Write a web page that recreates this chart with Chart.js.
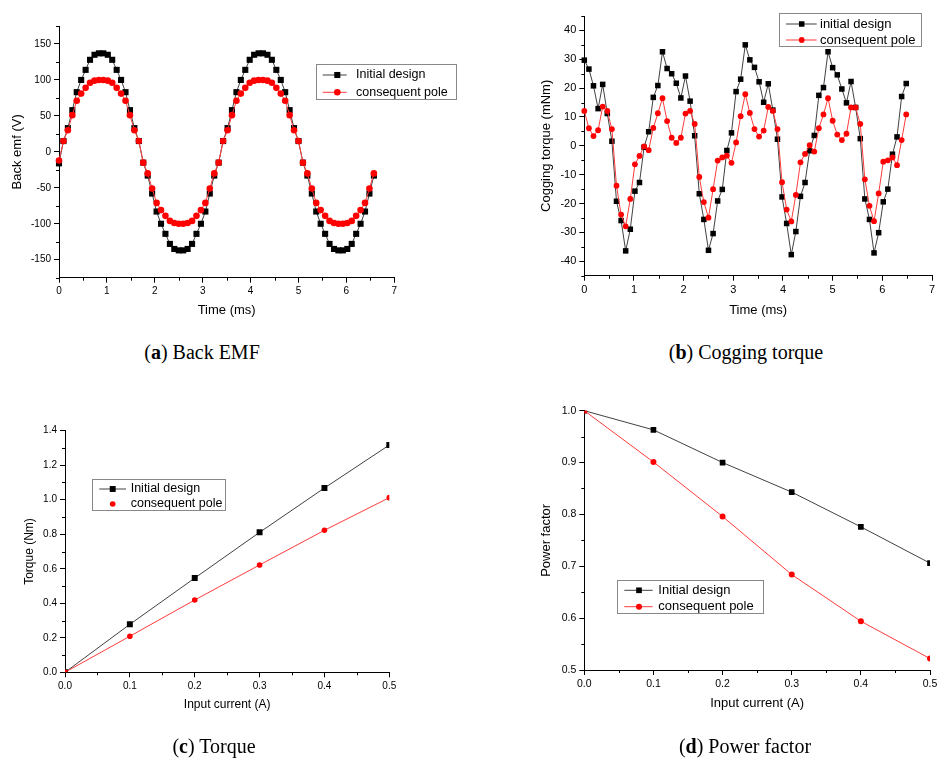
<!DOCTYPE html>
<html>
<head>
<meta charset="utf-8">
<title>Initial design vs consequent pole</title>
<script src="https://cdn.jsdelivr.net/npm/chart.js@4.4.1/dist/chart.umd.min.js"></script>
<style>
  html, body { margin: 0; padding: 0; background: #fff; overflow: hidden; }
  #page { position: relative; width: 937px; height: 763px; overflow: hidden; }
  canvas { position: absolute; }
  .caption {
    position: absolute; width: 300px; text-align: center;
    font-family: 'Liberation Serif', 'DejaVu Serif', serif;
    font-size: 20px; line-height: 24px; color: #000;
  }
</style>
</head>
<body>
<div id="page">
  <canvas id="emf_chart" width="468" height="335" style="left:0;top:0"></canvas>
  <canvas id="cogging_chart" width="475" height="335" style="left:470px;top:0"></canvas>
  <canvas id="torque_chart" width="468" height="345" style="left:0;top:390px"></canvas>
  <canvas id="pf_chart" width="480" height="345" style="left:470px;top:390px"></canvas>
  <div class="caption" style="left:52px;top:340px">(<b>a</b>) Back EMF</div>
  <div class="caption" style="left:596px;top:340px">(<b>b</b>) Cogging torque</div>
  <div class="caption" style="left:64px;top:734px">(<b>c</b>) Torque</div>
  <div class="caption" style="left:595px;top:734px">(<b>d</b>) Power factor</div>
</div>
<script>
// sample times (ms), 10 electrical degrees apart
const timeMs = [
    0, 0.093, 0.185, 0.278, 0.370, 0.463, 0.556, 0.648, 0.741, 0.833,
    0.926, 1.019, 1.111, 1.204, 1.296, 1.389, 1.481, 1.574, 1.667, 1.759,
    1.852, 1.944, 2.037, 2.130, 2.222, 2.315, 2.407, 2.500, 2.593, 2.685,
    2.778, 2.870, 2.963, 3.056, 3.148, 3.241, 3.333, 3.426, 3.519, 3.611,
    3.704, 3.796, 3.889, 3.981, 4.074, 4.167, 4.259, 4.352, 4.444, 4.537,
    4.630, 4.722, 4.815, 4.907, 5.000, 5.093, 5.185, 5.278, 5.370, 5.463,
    5.556, 5.648, 5.741, 5.833, 5.926, 6.019, 6.111, 6.204, 6.296, 6.389,
    6.481, 6.574
];

// back emf (V)
const emfInitial = [
    -16, 15, 33, 58, 83, 100, 114, 128, 135, 137,
    137, 135, 128, 114, 100, 83, 58, 33, 15, -15,
    -33, -58, -83, -100, -114, -128, -135, -137, -137, -135,
    -128, -114, -100, -83, -58, -33, -15, 15, 33, 58,
    83, 100, 114, 128, 135, 137, 137, 135, 128, 114,
    100, 83, 58, 33, 15, -15, -33, -58, -83, -100,
    -114, -128, -135, -137, -137, -135, -128, -114, -100, -83,
    -58, -33
];
const emfConsequent = [
    -12, 15, 30, 51, 71, 81, 89, 96, 99, 100,
    100, 99, 96, 89, 81, 71, 51, 30, 15, -15,
    -30, -51, -71, -81, -89, -96, -99, -100, -100, -99,
    -96, -89, -81, -71, -51, -30, -15, 15, 30, 51,
    71, 81, 89, 96, 99, 100, 100, 99, 96, 89,
    81, 71, 51, 30, 15, -15, -30, -51, -71, -81,
    -89, -96, -99, -100, -100, -99, -96, -89, -81, -71,
    -51, -30
];

// cogging torque (mNm)
const coggingInitial = [
    29.7, 26.6, 20.8, 12.9, 21.3, 11.2, 1.6, -19.2, -25.9, -36.4,
    -28.9, -15.7, -12.7, -0.5, 4.9, 16.8, 20.9, 32.6, 26.8, 25.0,
    21.7, 16.6, 24.2, 15.5, 3.5, -16.6, -25.5, -36.2, -30.4, -19.1,
    -15.1, -1.6, 4.5, 18.8, 23.1, 35.0, 29.8, 27.2, 22.2, 15.1,
    21.5, 12.4, 2.3, -17.7, -26.9, -37.7, -29.7, -17.5, -12.7, -1.7,
    3.6, 17.5, 20.2, 32.6, 27.1, 24.6, 19.7, 14.9, 22.3, 13.3,
    2.5, -18.4, -25.5, -37.1, -30.1, -19.4, -15.0, -2.9, 3.1, 17.1,
    21.6
];
const coggingConsequent = [
    12.1, 6.1, 3.4, 5.4, 13.6, 12.1, 5.8, -13.8, -23.8, -27.9,
    -18.4, -6.4, -3.5, -0.2, -1.5, 6.2, 11.3, 16.5, 8.6, 2.8,
    1.0, 2.8, 11.2, 12.1, 7.6, -10.8, -19.5, -24.9, -15.0, -5.1,
    -4.0, -3.4, -5.9, 1.2, 10.3, 17.9, 11.4, 5.8, 3.2, 5.3,
    13.5, 12.1, 5.8, -12.6, -22.1, -26.2, -17.0, -5.7, -2.8, 0.2,
    -2.0, 6.1, 10.9, 16.5, 8.7, 3.9, 2.0, 4.2, 13.3, 13.3,
    7.6, -11.6, -20.8, -26.1, -16.5, -5.5, -5.0, -4.0, -6.7, 2.0,
    10.9
];

// load tests
const currentA = [0, 0.1, 0.2, 0.3, 0.4, 0.5];
const torqueInitial = [0, 0.278, 0.546, 0.811, 1.068, 1.317];
const torqueConsequent = [0, 0.209, 0.419, 0.622, 0.823, 1.012];
const pfInitial = [1.0, 0.963, 0.900, 0.843, 0.776, 0.706];
const pfConsequent = [1.0, 0.901, 0.796, 0.684, 0.594, 0.522];

// axis ticks
const timeTicks = [0, 1, 2, 3, 4, 5, 6, 7];
const timeMinor = [0.5, 1.5, 2.5, 3.5, 4.5, 5.5, 6.5];
const emfTicks = [-150, -100, -50, 0, 50, 100, 150];
const emfMinor = [-175, -125, -75, -25, 25, 75, 125, 175];
const coggingTicks = [-40, -30, -20, -10, 0, 10, 20, 30, 40];
const coggingMinor = [-45, -35, -25, -15, -5, 5, 15, 25, 35, 45];
const currentTicks = [0, 0.1, 0.2, 0.3, 0.4, 0.5];
const currentMinor = [0.05, 0.15, 0.25, 0.35, 0.45];
const torqueTicks = [0, 0.2, 0.4, 0.6, 0.8, 1.0, 1.2, 1.4];
const torqueMinor = [0.1, 0.3, 0.5, 0.7, 0.9, 1.1, 1.3];
const pfTicks = [0.5, 0.6, 0.7, 0.8, 0.9, 1.0];
const pfMinor = [0.55, 0.65, 0.75, 0.85, 0.95];

const FONT = "'Liberation Sans', Arial, sans-serif";
Chart.defaults.font.family = FONT;
Chart.defaults.color = '#000';

const BLACK = { line: 'rgba(0,0,0,0.75)', fill: '#000', marker: 'rect', order: 1 };
const RED = { line: '#ff3b3b', fill: '#ff0000', marker: 'circle', order: 0 };

// legend drawn as a framed box at a fixed spot inside the plot
const legendBox = {
    id: 'legendBox',
    afterDraw(chart, args, o) {
        const ctx = chart.ctx;
        ctx.save();
        ctx.fillStyle = '#fff';
        ctx.fillRect(o.x, o.y, o.w, o.h);
        ctx.strokeStyle = '#888';
        ctx.lineWidth = 1;
        ctx.strokeRect(Math.round(o.x) + 0.5, Math.round(o.y) + 0.5, Math.round(o.w), Math.round(o.h));
        o.rows.forEach((row, i) => {
            const ds = chart.data.datasets[row.ds];
            const y = o.rowY[i];
            if (row.line) {
                ctx.strokeStyle = ds.borderColor;
                ctx.lineWidth = 1;
                ctx.beginPath();
                ctx.moveTo(o.lineX0, y);
                ctx.lineTo(o.lineX1, y);
                ctx.stroke();
            }
            ctx.fillStyle = ds.pointBackgroundColor;
            Chart.helpers.drawPoint(ctx, { pointStyle: ds.pointStyle, radius: ds.pointRadius, rotation: 0, borderWidth: 0 }, o.markX, y);
            ctx.fillStyle = '#000';
            ctx.font = o.fontSize + 'px ' + FONT;
            ctx.textBaseline = 'middle';
            ctx.textAlign = 'left';
            ctx.fillText(ds.label, o.textX, y);
        });
        ctx.restore();
    }
};

// short unlabelled ticks between the major ones
const minorTicks = {
    id: 'minorTicks',
    afterDraw(chart, args, o) {
        const { ctx } = chart;
        const sx = chart.scales.x, sy = chart.scales.y;
        ctx.save();
        ctx.strokeStyle = '#000';
        ctx.lineWidth = 1;
        ctx.beginPath();
        o.x.forEach(v => {
            const px = Math.round(sx.getPixelForValue(v)) + 0.5;
            ctx.moveTo(px, sx.top);
            ctx.lineTo(px, sx.top + 3);
        });
        o.y.forEach(v => {
            const py = Math.round(sy.getPixelForValue(v)) + 0.5;
            ctx.moveTo(sy.right - 3, py);
            ctx.lineTo(sy.right, py);
        });
        ctx.stroke();
        ctx.restore();
    }
};

function makeAxis(a) {
    return {
        type: 'linear',
        min: a.min,
        max: a.max,
        afterBuildTicks: scale => { scale.ticks = a.ticks.map(v => ({ value: v })); },
        afterFit: scale => {
            if (scale.isHorizontal()) scale.height = a.size;
            else scale.width = a.size;
        },
        border: { display: true, color: '#000', width: 1 },
        grid: { drawOnChartArea: false, drawTicks: true, tickLength: 5, tickWidth: 1, color: '#000' },
        ticks: {
            autoSkip: false,
            maxRotation: 0,
            padding: 3,
            color: '#000',
            font: { size: a.tickSize },
            callback: value => a.digits ? value.toFixed(a.digits) : String(value)
        },
        title: {
            display: true,
            text: a.title,
            color: '#000',
            font: { size: a.titleSize },
            padding: { top: a.titlePad, bottom: a.titlePad }
        }
    };
}

function series(label, xs, ys, style, radius, clip) {
    return {
        label: label,
        data: ys.map((y, i) => ({ x: xs[i], y: y })),
        borderColor: style.line,
        borderWidth: 1,
        pointStyle: style.marker,
        pointRadius: radius,
        pointBackgroundColor: style.fill,
        pointBorderColor: style.fill,
        pointBorderWidth: 0,
        order: style.order,
        clip: clip
    };
}

function drawPanel(id, cfg) {
    return new Chart(document.getElementById(id), {
        type: 'line',
        data: { datasets: cfg.datasets },
        options: {
            responsive: false,
            animation: false,
            devicePixelRatio: 1,
            events: [],
            layout: { padding: cfg.padding },
            scales: { x: makeAxis(cfg.x), y: makeAxis(cfg.y) },
            plugins: {
                legend: { display: false },
                tooltip: { enabled: false },
                legendBox: cfg.legend,
                minorTicks: cfg.minor
            }
        },
        plugins: [legendBox, minorTicks]
    });
}

drawPanel('emf_chart', {
    datasets: [
        series('Initial design', timeMs, emfInitial, BLACK, 4.3, false),
        series('consequent pole', timeMs, emfConsequent, RED, 3.3, false)
    ],
    padding: { left: 0, top: 26, right: 73.7, bottom: 0 },
    x: { min: 0, max: 7, ticks: timeTicks, size: 57.3, tickSize: 10, title: 'Time (ms)', titleSize: 13, titlePad: 17.2 },
    y: { min: -175, max: 175, ticks: emfTicks, size: 59, tickSize: 10, title: 'Back emf (V)', titleSize: 13, titlePad: 9.5 },
    minor: { x: timeMinor, y: emfMinor },
    legend: {
        x: 315.7, y: 64.3, w: 140.3, h: 35, rowY: [75, 92.3],
        lineX0: 322.7, lineX1: 346.7, markX: 337.3, textX: 356, fontSize: 12.5,
        rows: [{ ds: 0, line: true }, { ds: 1, line: true }]
    }
});

drawPanel('cogging_chart', {
    datasets: [
        series('initial design', timeMs, coggingInitial, BLACK, 3.9, false),
        series('consequent pole', timeMs, coggingConsequent, RED, 2.9, false)
    ],
    padding: { left: 0, top: 16, right: 13, bottom: 0 },
    x: { min: 0, max: 7, ticks: timeTicks, size: 59.3, tickSize: 11, title: 'Time (ms)', titleSize: 13, titlePad: 17.2 },
    y: { min: -45, max: 45, ticks: coggingTicks, size: 114.3, tickSize: 11, title: 'Cogging torque (mNm)', titleSize: 13, titlePad: 68.2 },
    minor: { x: timeMinor, y: coggingMinor },
    legend: {
        x: 309, y: 13.3, w: 142, h: 33.4, rowY: [24, 40],
        lineX0: 316, lineX1: 346.7, markX: 331.7, textX: 350, fontSize: 13,
        rows: [{ ds: 0, line: true }, { ds: 1, line: true }]
    }
});

drawPanel('torque_chart', {
    datasets: [
        series('Initial design', currentA, torqueInitial, BLACK, 4.2, 0),
        series('consequent pole', currentA, torqueConsequent, RED, 2.8, 0)
    ],
    padding: { left: 0, top: 40.7, right: 78.7, bottom: 0 },
    x: { min: 0, max: 0.5, ticks: currentTicks, digits: 1, size: 62.7, tickSize: 10, title: 'Input current (A)', titleSize: 12, titlePad: 23.5 },
    y: { min: 0, max: 1.4, ticks: torqueTicks, digits: 1, size: 65, tickSize: 10, title: 'Torque (Nm)', titleSize: 12, titlePad: 22.1 },
    minor: { x: currentMinor, y: torqueMinor },
    legend: {
        x: 91.7, y: 89.3, w: 132.6, h: 31.4, rowY: [99, 114],
        lineX0: 99.3, lineX1: 126, markX: 112.7, textX: 130.7, fontSize: 12.5,
        rows: [{ ds: 0, line: true }, { ds: 1, line: false }]
    }
});

drawPanel('pf_chart', {
    datasets: [
        series('Initial design', currentA, pfInitial, BLACK, 4.0, 0),
        series('consequent pole', currentA, pfConsequent, RED, 3.0, 0)
    ],
    padding: { left: 0, top: 20.7, right: 20, bottom: 0 },
    x: { min: 0, max: 0.5, ticks: currentTicks, digits: 1, size: 65, tickSize: 10.5, title: 'Input current (A)', titleSize: 13, titlePad: 23.9 },
    y: { min: 0.5, max: 1.0, ticks: pfTicks, digits: 1, size: 114.3, tickSize: 10.5, title: 'Power factor', titleSize: 13, titlePad: 68.9 },
    minor: { x: currentMinor, y: pfMinor },
    legend: {
        x: 146.7, y: 190.3, w: 145.6, h: 33.4, rowY: [200.3, 216.7],
        lineX0: 154.3, lineX1: 182.7, markX: 169, textX: 188.3, fontSize: 13,
        rows: [{ ds: 0, line: true }, { ds: 1, line: true }]
    }
});
</script>
</body>
</html>
